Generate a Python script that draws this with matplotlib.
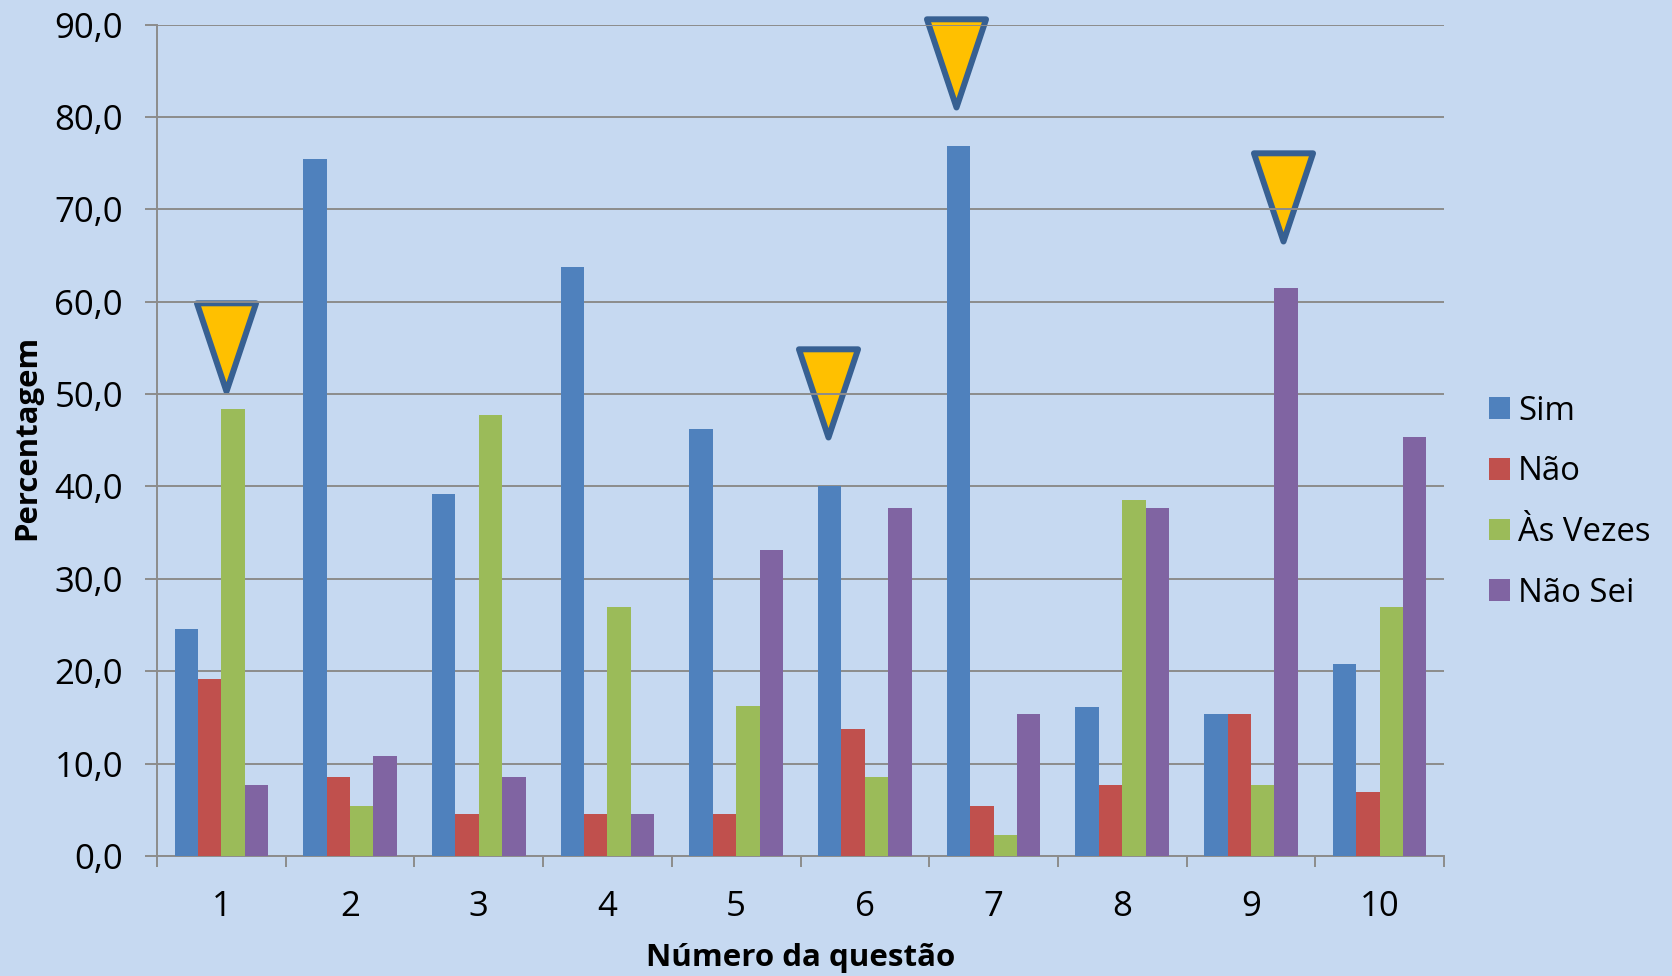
import numpy as np
import matplotlib
matplotlib.use('Agg')
import matplotlib.pyplot as plt
from matplotlib.path import Path
from matplotlib.markers import MarkerStyle

questions = ['1', '2', '3', '4', '5', '6', '7', '8', '9', '10']
sim = [24.6, 75.4, 39.2, 63.8, 46.2, 40.0, 76.9, 16.1, 15.4, 20.8]
nao = [19.2, 8.5, 4.6, 4.6, 4.6, 13.8, 5.4, 7.7, 15.4, 6.9]
as_vezes = [48.4, 5.4, 47.7, 26.9, 16.2, 8.5, 2.3, 38.5, 7.7, 26.9]
nao_sei = [7.7, 10.8, 8.5, 4.6, 33.1, 37.7, 15.4, 37.7, 61.5, 45.4]

# tips of the yellow warning triangles
tri_x = [1.04, 5.71, 6.71, 9.25]
tri_y = [50.35, 45.35, 81.05, 66.55]

bg = '#c6d9f1'
plt.rcParams['font.family'] = ['Open Sans', 'DejaVu Sans']

fig = plt.figure(figsize=(16.72, 9.76), dpi=100, facecolor=bg)
ax = fig.add_axes([157 / 1672, 1 - 856 / 976, (1444 - 157) / 1672, (856 - 24.5) / 976], facecolor=bg)

x = np.arange(1, 11)
w = 0.182
series = [('Sim', sim, '#4f81bd'), ('Não', nao, '#c0504d'),
          ('Às Vezes', as_vezes, '#9bbb59'), ('Não Sei', nao_sei, '#8064a2')]
for i, (name, vals, col) in enumerate(series):
    ax.bar(x + (i - 1.5) * w, vals, w, color=col, label=name, zorder=3)

ax.set_xlim(0.5, 10.5)
ax.set_ylim(0, 90)
ax.set_yticks(np.arange(0, 91, 10))
ax.yaxis.set_major_formatter(plt.FuncFormatter(lambda v, p: ('%.1f' % v).replace('.', ',')))
ax.set_xticks(x)
ax.set_xticklabels(questions)
ax.set_xticks(np.arange(0.5, 11, 1), minor=True)
ax.tick_params(axis='x', which='major', length=0, labelsize=25, pad=24.5)
ax.tick_params(axis='x', which='minor', length=8, width=1.4, color='#8c8c8c')
ax.tick_params(axis='y', length=8.5, width=1.4, color='#8c8c8c', labelsize=25, pad=16)
ax.set_axisbelow(True)
ax.grid(axis='y', color='#8c8c8c', lw=1.4)
for s in ['top', 'right']:
    ax.spines[s].set_visible(False)
for s in ['left', 'bottom']:
    ax.spines[s].set_color('#8c8c8c')
    ax.spines[s].set_linewidth(1.4)

# drawn under the gridlines, as in the original
tri = Path([(0, 0), (-0.335, 1), (0.335, 1), (0, 0)], closed=True)
ax.plot(tri_x, tri_y, ls='none', marker=MarkerStyle(tri, joinstyle='round'), markersize=127,
        markerfacecolor='#ffc000', markeredgecolor='#376092', markeredgewidth=4.3,
        clip_on=False, zorder=0.3)

ax.set_xlabel('Número da questão', fontsize=22.5, fontweight='bold', labelpad=14)
ax.set_ylabel('Percentagem', fontsize=22.4, fontweight='bold', labelpad=8.5)
ax.yaxis.label.set_y(0.503)

ax.legend(loc='center left', bbox_to_anchor=(1.035, 0.4255), frameon=False, fontsize=23.7,
          borderaxespad=0, borderpad=0, handlelength=0.63, handleheight=0.63,
          handletextpad=0.25, labelspacing=0.84)

fig.savefig('out.png', dpi=100, facecolor=bg)
